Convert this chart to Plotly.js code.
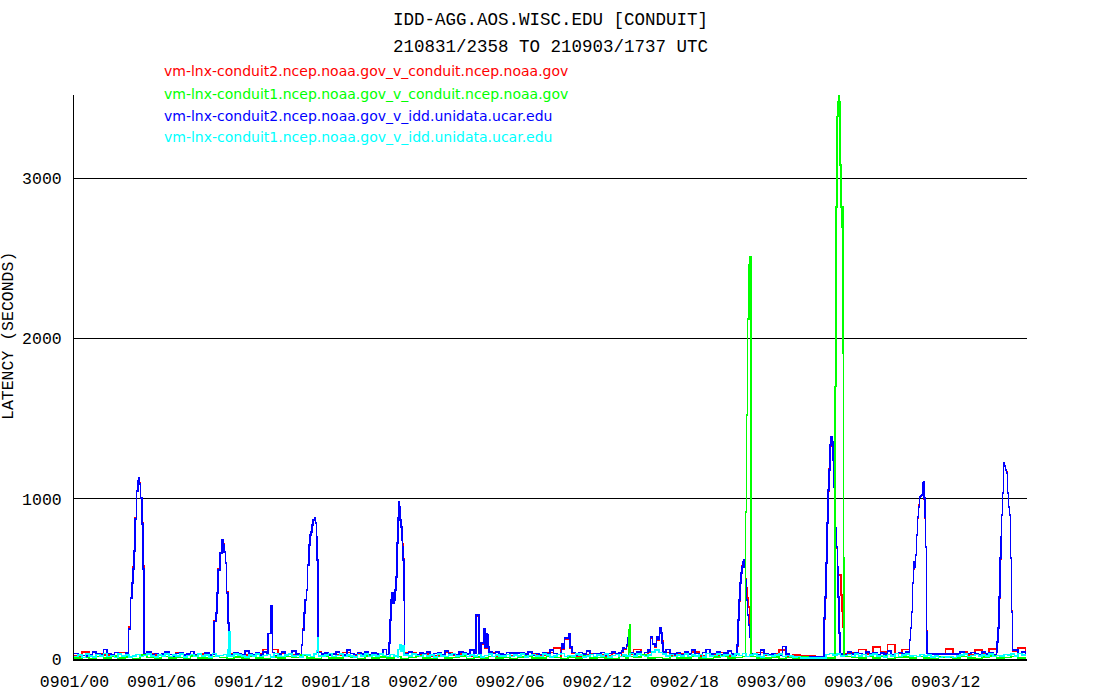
<!DOCTYPE html>
<html>
<head>
<meta charset="utf-8">
<script src="https://cdn.plot.ly/plotly-3.0.1.min.js"></script>
<style>
html,body{margin:0;padding:0;background:#fff}
#chart{width:1100px;height:700px}
#chart .scatterlayer path{shape-rendering:crispEdges}
#chart .gridlayer path, #chart .xlines-above, #chart .ylines-above{shape-rendering:crispEdges}
</style>
</head>
<body>
<div id="chart"></div>
<script>
// ---- text ----
const titleLines = ["IDD-AGG.AOS.WISC.EDU [CONDUIT]", "210831/2358 TO 210903/1737 UTC"];
const seriesNames = [
  "vm-lnx-conduit2.ncep.noaa.gov_v_conduit.ncep.noaa.gov",
  "vm-lnx-conduit1.ncep.noaa.gov_v_conduit.ncep.noaa.gov",
  "vm-lnx-conduit2.ncep.noaa.gov_v_idd.unidata.ucar.edu",
  "vm-lnx-conduit1.ncep.noaa.gov_v_idd.unidata.ucar.edu"
];
const seriesColors = ["#ff0000", "#00ff00", "#0000ff", "#00ffff"];
const yTitle = "LATENCY (SECONDS)";
// x in hours since 0901/00 UTC
const xTickVals = [0, 6, 12, 18, 24, 30, 36, 42, 48, 54, 60];
const xTickText = ["0901/00","0901/06","0901/12","0901/18","0902/00","0902/06","0902/12","0902/18","0903/00","0903/06","0903/12"];
const yTickVals = [0, 1000, 2000, 3000];
const xRange = [-0.033, 65.6];
const yRange = [0, 3520];

// ---- baseline latency samples (regular sampling) ----
const blueBaseStart = 0, blueBaseStep = 0.25;
const blueBase = [
  35,22,22,20,28,45,30,25,60,35,28,40,30,22,38,45,30,30,30,30,42,28,35,25,
  30,45,28,20,35,40,25,30,48,26,33,22,38,25,30,45,28,35,30,25,40,32,28,50,
  35,28,40,25,45,30,38,22,30,42,28,35,50,30,25,40,33,28,45,35,30,38,25,30,
  42,30,25,55,35,28,40,30,45,25,38,30,35,60,28,40,30,45,28,35,42,30,25,38,
  30,45,25,35,40,28,50,35,30,25,45,40,30,55,38,25,40,30,28,35,45,30,25,40,
  37,37,37,37,30,45,25,35,28,40,30,55,35,28,40,30,45,35,25,40,30,50,28,35,
  30,40,25,35,45,30,38,28,50,35,30,45,25,40,55,35,30,28,45,60,35,30,40,28,
  45,30,55,35,28,40,60,30,35,45,28,38,50,30,25,40,30,35,25,30,28,55,30,25,
  30,20,25,77,30,22,15,15,15,15,15,15,15,15,15,30,35,28,40,30,25,45,30,38,
  35,28,45,30,40,25,38,30,50,28,35,40,30,45,25,35,30,28,40,35,31,31,31,31,
  31,31,31,31,45,28,35,40,30,25,42,30,38,28,45,30,35,40,30,55,35,45,30
];
const cyanBaseStart = 0, cyanBaseStep = 0.25;
const cyanBase = [
  15,25,10,30,20,12,28,18,35,15,22,10,30,18,25,12,20,28,15,22,30,18,12,25,
  20,30,15,25,18,32,12,22,28,15,30,20,25,12,35,18,22,28,15,20,30,25,18,12,
  25,18,30,15,22,28,12,35,20,15,25,30,18,22,12,28,25,15,30,20,18,25,35,15,
  22,30,15,25,18,12,28,20,32,15,25,18,30,22,15,28,20,12,35,25,18,30,22,15,
  28,18,25,12,30,20,15,25,35,18,22,30,15,25,18,28,12,22,30,15,25,20,18,28,
  15,25,20,30,12,22,28,18,15,30,25,12,20,28,35,15,22,18,30,25,12,20,28,15,
  25,18,30,12,22,28,15,25,20,35,18,30,22,15,25,45,55,40,30,20,28,15,25,18,
  30,15,25,20,28,12,35,18,22,30,15,25,28,18,30,22,35,15,25,30,20,12,28,22,
  18,25,30,15,22,20,12,15,5,5,5,5,5,5,5,28,35,25,30,18,22,28,15,30,
  20,28,15,25,30,18,22,12,28,20,35,15,25,30,18,22,15,28,20,25,12,18,10,15,
  12,15,10,18,25,30,15,22,28,18,25,20,30,15,22,18,28,25,30,20,35,25,30
];
const redBaseStart = 0, redBaseStep = 0.5;
const redBase = [
  20,45,15,30,25,18,40,22,30,15,35,25,
  28,15,40,22,18,30,25,35,20,15,30,25,
  18,30,60,22,35,15,28,20,40,25,18,30,
  25,40,18,30,22,35,15,28,30,20,40,25,
  30,18,25,40,22,30,15,35,25,60,20,28,
  22,35,18,30,25,40,70,20,30,18,25,35,
  28,20,35,15,30,60,25,40,18,30,22,35,
  30,45,20,35,25,40,18,30,22,35,40,25,
  30,55,20,25,18,20,15,15,20,15,35,40,
  60,30,75,45,90,35,60,40,30,25,35,28,
  62,30,45,25,55,30,62,40,25,30,70,45
];
const greenBaseStart = 0, greenBaseStep = 0.5;
const greenBase = [
  5,10,0,15,8,20,5,12,0,25,10,5,
  15,5,10,0,20,8,5,15,10,0,12,5,
  20,8,0,12,5,15,10,25,5,0,18,8,
  5,15,10,0,20,5,12,8,15,0,10,20,
  8,0,15,5,10,20,0,12,5,15,8,10,
  0,12,20,5,8,15,10,0,12,5,20,8,
  10,5,0,15,8,12,25,5,10,0,15,8,
  5,15,8,0,12,20,5,10,15,25,8,5,
  12,0,10,5,15,8,5,5,5,5,20,10,
  5,15,8,20,0,10,12,5,15,8,0,12,
  10,5,15,8,0,12,20,5,10,15,8,5
];

// ---- latency episodes (hours, seconds) ----
const bluePeakT = [
  [3.64,3.71,3.87,3.96,4.01,4.10,4.17,4.26,4.36,4.43,4.49,4.56,4.63,4.70,4.77],
  [9.61,9.75,9.81,9.90,10.02,10.14,10.21,10.30,10.39,10.48,10.57,10.64],
  [13.32,13.53,13.63],
  [15.64,15.71,15.80,15.89,15.99,16.06,16.15,16.21,16.30,16.37,16.44,16.54,16.61,16.68,16.72,16.76],
  [21.65,21.72,21.79,21.88,21.95,22.02,22.09,22.15,22.22,22.29,22.34,22.39,22.43,22.50,22.55,22.60,22.64,22.68,22.73],
  [27.64,27.85,27.98,28.19,28.26,28.35,28.42,28.49,28.55],
  [33.54,33.63,33.76,33.90,34.04,34.14,34.25],
  [37.67,37.78,37.89,38.01,38.12,38.19,38.29],
  [39.61,39.68,39.80,39.96,40.08,40.19,40.30,40.39,40.46,40.53],
  [45.55,45.62,45.69,45.76,45.83,45.90,45.97,46.04,46.11,46.15,46.22,46.29,46.36,46.43,46.50,46.57],
  [51.61,51.68,51.75,51.82,51.89,51.96,52.02,52.09,52.16,52.23,52.30,52.37,52.41,52.48,52.55,52.60,52.67,52.74],
  [57.51,57.58,57.65,57.71,57.78,57.83,57.87,57.93,57.99,58.06,58.13,58.20,58.27,58.34,58.40,58.47,58.52,58.56,58.61,58.68,58.73],
  [63.52,63.59,63.66,63.72,63.79,63.84,63.91,63.98,64.05,64.12,64.19,64.25,64.32,64.39,64.46,64.53,64.60]
];
const bluePeakV = [
  [30,187,381,475,562,675,875,1050,1112,1131,1094,1006,844,562,30],
  [233,287,412,556,662,743,712,668,599,412,225,25],
  [160,330,40],
  [87,181,287,368,431,587,712,775,793,837,868,881,850,762,618,40],
  [100,243,368,412,350,368,431,512,725,881,981,950,868,825,743,700,618,368,35],
  [275,37,100,187,75,156,150,75,45],
  [98,65,131,131,156,75,40],
  [50,69,66,87,131,66,37],
  [50,136,94,81,136,125,193,163,100,45],
  [30,87,243,368,475,537,575,606,618,575,493,368,275,212,137,30],
  [256,387,600,850,1056,1181,1337,1387,1356,1243,1075,950,818,700,575,387,162,30],
  [118,193,293,475,568,606,575,650,775,887,950,1012,1018,1025,1100,1106,1006,887,700,168,35],
  [108,193,387,631,762,900,1037,1225,1206,1181,1162,1037,950,900,631,293,56]
];
const redPeakT = [
  [3.64,3.71,3.87,3.96,4.01,4.10,4.17,4.26,4.36,4.43,4.49,4.56,4.63,4.70,4.77],
  [9.61,9.75,9.81,9.90,10.02,10.14,10.21,10.30,10.39,10.48,10.57,10.64],
  [13.32,13.53,13.63],
  [15.64,15.71,15.80,15.89,15.99,16.06,16.15,16.21,16.30,16.37,16.44,16.54,16.61,16.68,16.72,16.76],
  [21.65,21.72,21.79,21.88,21.95,22.02,22.09,22.15,22.22,22.29,22.34,22.39,22.43,22.50,22.55,22.60,22.64,22.68,22.73],
  [27.64,27.85,27.98,28.19,28.26,28.35,28.42,28.49,28.55],
  [33.54,33.63,33.76,33.90,34.04,34.14,34.25],
  [37.67,37.78,37.89,38.01,38.12,38.19,38.29],
  [39.61,39.68,39.80,39.96,40.08,40.19,40.30,40.39,40.46,40.53],
  [45.55,45.62,45.69,45.76,45.83,45.90,45.97,46.04,46.11,46.15,46.22,46.29,46.36,46.43,46.50,46.57,46.62],
  [51.61,51.68,51.75,51.82,51.89,51.96,52.02,52.09,52.16,52.23,52.30,52.37,52.41,52.48,52.55,52.60,52.69,52.78,52.85,52.92,52.99],
  [57.51,57.58,57.65,57.71,57.78,57.83,57.87,57.93,57.99,58.06,58.13,58.20,58.27,58.34,58.40,58.47,58.52,58.56,58.61,58.68,58.73],
  [63.52,63.59,63.66,63.72,63.79,63.84,63.91,63.98,64.05,64.12,64.19,64.25,64.32,64.39,64.46,64.53,64.60]
];
const redPeakV = [
  [30,200,381,475,575,675,880,1050,1112,1131,1100,1006,850,580,25],
  [240,287,412,560,662,743,720,668,599,420,225,30],
  [160,320,60],
  [90,190,287,368,431,587,712,775,793,837,868,881,850,762,618,45],
  [100,243,368,412,350,368,431,512,725,881,981,950,868,825,743,720,625,368,40],
  [270,45,95,180,70,150,145,70,40],
  [90,60,125,125,150,70,35],
  [45,60,60,80,120,60,30],
  [45,130,90,75,130,120,185,160,112,40],
  [30,80,240,360,470,537,580,600,610,575,500,443,380,325,200,120,30],
  [250,380,600,850,1050,1190,1330,1380,1350,1240,1070,940,810,690,570,520,525,400,300,200,30],
  [115,190,290,470,560,600,575,650,775,880,960,1015,1018,1025,1100,1106,1000,880,700,175,35],
  [105,190,380,625,760,900,1037,1225,1206,1181,1170,1040,950,900,631,300,50]
];
const greenPeakT = [
  [38.10,38.17,38.24,38.29],
  [46.20,46.29,46.34,46.45,46.50,46.61],
  [52.39,52.46,52.53,52.60,52.64,52.69,52.74,52.78,52.83,52.87,52.92,52.96,53.01]
];
const greenPeakV = [
  [20,181,212,15],
  [919,1523,2122,2459,2511,15],
  [1700,2821,3385,3479,3520,3479,3084,2821,2696,2821,1906,631,15]
];
const cyanPeakT = [
  [10.57,10.64,10.71],
  [16.68,16.74,16.80],
  [22.30,22.40,22.50,22.60,22.70]
];
const cyanPeakV = [
  [60,168,20],
  [50,131,20],
  [60,87,50,80,25]
];

// ---- assemble each series from its baseline samples and episodes ----
function buildSeries(base, start, step, peaksT, peaksV) {
  const wins = peaksT.map(t => [t[0], t[t.length - 1]]);
  const pts = [];
  base.forEach((v, i) => {
    const t = start + i * step;
    if (!wins.some(w => t >= w[0] && t <= w[1])) pts.push([t, v]);
  });
  peaksT.forEach((ts, k) => ts.forEach((t, j) => pts.push([t, peaksV[k][j]])));
  pts.sort((a, b) => a[0] - b[0]);
  return { x: pts.map(p => p[0]), y: pts.map(p => p[1]) };
}

const red = buildSeries(redBase, redBaseStart, redBaseStep, redPeakT, redPeakV);
const green = buildSeries(greenBase, greenBaseStart, greenBaseStep, greenPeakT, greenPeakV);
const blue = buildSeries(blueBase, blueBaseStart, blueBaseStep, bluePeakT, bluePeakV);
const cyan = buildSeries(cyanBase, cyanBaseStart, cyanBaseStep, cyanPeakT, cyanPeakV);

function tr(s, idx) {
  return { x: s.x, y: s.y, type: 'scatter', mode: 'lines', name: seriesNames[idx],
    line: { color: seriesColors[idx], width: 1.6, shape: 'hv' }, hoverinfo: 'skip', showlegend: false };
}
// draw order: red, blue, green, cyan
const traces = [tr(red, 0), tr(blue, 2), tr(green, 1), tr(cyan, 3)];

const L = 74, R = 1027, T = 95, B = 659;
const pw = R - L, ph = B - T;
const px2x = p => (p - L) / pw;
const py2y = p => (B - p) / ph;

const monoFont = "Liberation Mono, DejaVu Sans Mono, monospace";
const annotations = [];
titleLines.forEach((t, i) => annotations.push({
  text: t, xref: 'paper', yref: 'paper', x: px2x(550), y: py2y([20, 47][i]),
  xanchor: 'center', yanchor: 'middle', showarrow: false,
  font: { family: monoFont, size: 17.5, color: '#000' }
}));
seriesNames.forEach((t, i) => annotations.push({
  text: t, xref: 'paper', yref: 'paper', x: px2x(162), y: py2y([71.5, 93.5, 115.5, 137][i]),
  xanchor: 'left', yanchor: 'middle', showarrow: false,
  font: { family: "DejaVu Sans, sans-serif", size: 14, color: seriesColors[i] }
}));
annotations.push({
  text: yTitle, xref: 'paper', yref: 'paper', x: px2x(8), y: py2y(336),
  xanchor: 'center', yanchor: 'middle', showarrow: false, textangle: -90,
  font: { family: monoFont, size: 16.5, color: '#000' }
});

const layout = {
  width: 1100, height: 700,
  margin: { l: L, r: 1100 - R, t: T, b: 700 - B, pad: 0 },
  paper_bgcolor: '#fff', plot_bgcolor: '#fff',
  showlegend: false,
  xaxis: {
    range: xRange, tickmode: 'array', tickvals: xTickVals, ticktext: xTickText,
    showgrid: false, zeroline: false, showline: true, linecolor: '#000', linewidth: 2,
    ticks: '', ticklabelstandoff: 6,
    tickfont: { family: monoFont, size: 16.5, color: '#000' }
  },
  yaxis: {
    range: yRange, tickmode: 'array', tickvals: yTickVals,
    showgrid: true, gridcolor: '#000', gridwidth: 1, zeroline: false,
    showline: true, linecolor: '#000', linewidth: 1,
    ticks: '', ticklabelstandoff: 8,
    tickfont: { family: monoFont, size: 16.5, color: '#000' }
  },
  annotations: annotations
};

Plotly.newPlot('chart', traces, layout, { displayModeBar: false, staticPlot: true });
</script>
</body>
</html>
